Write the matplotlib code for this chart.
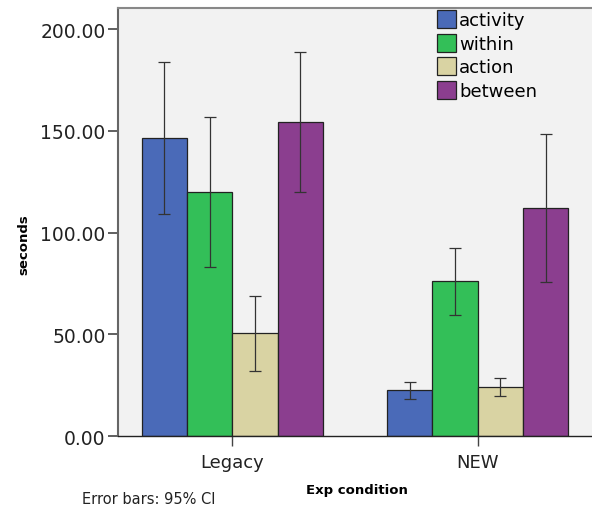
import numpy as np
import matplotlib
matplotlib.use('Agg')
import matplotlib.pyplot as plt

groups = ['Legacy', 'NEW']
series = ['activity', 'within', 'action', 'between']
colors = ['#4a6ab8', '#33bf58', '#d9d3a3', '#8b3e8f']

# means and 95% CI (low, high) per series, [Legacy, NEW]
means = {
    'activity': [146.5, 22.5],
    'within':   [120.0, 76.0],
    'action':   [50.5, 23.9],
    'between':  [154.4, 112.2],
}
ci_low = {
    'activity': [109.1, 18.3],
    'within':   [82.9, 59.3],
    'action':   [32.1, 19.5],
    'between':  [120.1, 75.9],
}
ci_high = {
    'activity': [183.9, 26.5],
    'within':   [156.8, 92.6],
    'action':   [69.0, 28.7],
    'between':  [189.0, 148.5],
}
yticks = [0, 50, 100, 150, 200]

fig = plt.figure(figsize=(5.92, 5.10), dpi=100)
ax = fig.add_axes([0.1993, 0.1431, 0.8007, 0.8393])
ax.set_facecolor('#f2f2f2')

x = np.arange(len(groups))
w = 0.185
for i, s in enumerate(series):
    pos = x + (i - 1.5) * w
    m = np.array(means[s])
    lo = m - np.array(ci_low[s])
    hi = np.array(ci_high[s]) - m
    ax.bar(pos, m, width=w, color=colors[i], edgecolor='#222222', linewidth=0.9,
           label=s, zorder=2)
    ax.errorbar(pos, m, yerr=[lo, hi], fmt='none', ecolor='#333333',
                elinewidth=0.9, capsize=4.3, capthick=0.9, zorder=3)

ax.set_xlim(-0.467, 1.467)
ax.set_ylim(0, 210.4)
ax.set_xticks(x)
ax.set_xticklabels(groups, fontsize=13, color='#222222')
ax.set_yticks(yticks)
ax.set_yticklabels(['%.2f' % v for v in yticks], fontsize=13.5, color='#222222')
ax.tick_params(axis='y', length=7, width=1.2, color='#444444', pad=2)
ax.tick_params(axis='x', length=7, width=1.0, color='#444444', pad=5)

ax.spines['right'].set_visible(False)
ax.spines['left'].set_color('#666666')
ax.spines['left'].set_linewidth(1.5)
ax.spines['top'].set_color('#888888')
ax.spines['top'].set_linewidth(1.5)
ax.spines['bottom'].set_color('#222222')
ax.spines['bottom'].set_linewidth(1.0)

ax.set_ylabel('seconds', fontsize=9.5, fontweight='bold')
ax.yaxis.set_label_coords(-0.185, 0.45)
fig.text(0.603, 0.032, 'Exp condition', fontsize=9.5, fontweight='bold', ha='center')
fig.text(0.139, 0.012, 'Error bars: 95% CI', fontsize=10.5, color='#222222')

leg = ax.legend(loc='upper left', bbox_to_anchor=(0.672, 0.995), frameon=False,
                fontsize=13, handlelength=1.1, handleheight=1.15,
                handletextpad=0.15, labelspacing=0.25, borderpad=0, borderaxespad=0)

fig.savefig('out.png', dpi=100)
